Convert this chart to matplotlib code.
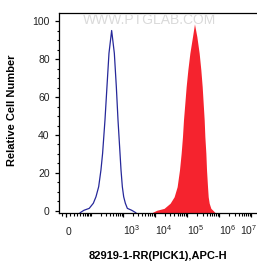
import matplotlib

matplotlib.use("Agg")
import matplotlib.pyplot as plt
from matplotlib.ticker import FixedLocator, FixedFormatter, NullFormatter
from matplotlib.transforms import ScaledTranslation

plt.rcParams["font.family"] = ["Liberation Sans", "DejaVu Sans"]
plt.rcParams["mathtext.fontset"] = "custom"
plt.rcParams["mathtext.rm"] = "Liberation Sans"
plt.rcParams["mathtext.it"] = "Liberation Sans:italic"
plt.rcParams["mathtext.bf"] = "Liberation Sans:bold"

# control histogram (blue outline)
control_x = [40, 56, 85, 116, 141, 172, 203, 229, 272, 314, 363, 440,
             534, 616, 695, 803, 863, 949, 1046, 1178, 1360, 1858, 2500]
control_y = [-1.0, 0.3, 1.3, 4.0, 7.4, 12.7, 21.5, 30.3, 47.9, 65.5, 83.1, 95.1,
             83.1, 65.5, 47.9, 30.3, 21.5, 12.7, 7.4, 4.0, 1.3, 0.3, -1.0]

# stained histogram (red fill)
stained_x = [7850, 11240, 19000, 29300, 39100, 48500, 57400, 64700, 71200, 76500,
             84300, 92700, 104600, 120800, 146300, 168500, 199800, 236300, 266400,
             293200, 315100, 338600, 355200, 381800, 400500, 430200, 451600, 485300,
             547100, 631500, 746500]
stained_y = [-1.0, 0.3, 1.3, 4.0, 7.4, 12.7, 21.5, 30.3, 39.1, 47.9,
             56.7, 65.5, 74.3, 83.1, 91.9, 98.6, 91.9, 83.1, 74.3,
             65.5, 56.7, 47.9, 39.1, 30.3, 21.5, 12.7, 7.4, 4.0,
             1.3, 0.3, -1.0]

x_major = [0, 1e3, 1e4, 1e5, 1e6, 1e7]
x_major_labels = ["0", "$10^{3}$", "$10^{4}$", "$10^{5}$", "$10^{6}$", "$10^{7}$"]
x_minor = [-10] + [k * 10 for k in range(1, 10)] + [k * 10 ** e for e in range(2, 7) for k in range(1, 10)]
y_major = [0, 20, 40, 60, 80, 100]
y_minor = list(range(0, 105, 5))

x_label = "82919-1-RR(PICK1),APC-H"
y_label = "Relative Cell Number"
watermark = "WWW.PTGLAB.COM"

fig = plt.figure(figsize=(2.57, 2.64), dpi=100)
ax = fig.add_axes([59 / 257, 1 - 213.3 / 264, 198 / 257, 200.6 / 264])

ax.set_xscale("asinh", linear_width=33)
ax.set_xlim(-17, 1.5e7)
ax.set_ylim(-1.3, 104.5)

ax.fill_between(stained_x, stained_y, -1.3, color="#f5232e", lw=0)
ax.plot(control_x, control_y, color="#26289a", lw=0.9)

ax.xaxis.set_major_locator(FixedLocator(x_major))
ax.xaxis.set_major_formatter(FixedFormatter(x_major_labels))
ax.xaxis.set_minor_locator(FixedLocator(x_minor))
ax.xaxis.set_minor_formatter(NullFormatter())
ax.yaxis.set_major_locator(FixedLocator(y_major))
ax.yaxis.set_minor_locator(FixedLocator(y_minor))

ax.tick_params(axis="x", which="major", direction="out", length=3.2, width=0.9,
               pad=12.5, labelsize=7.5, labelcolor="#222222")
ax.tick_params(axis="y", which="major", direction="out", length=3.2, width=0.9,
               pad=3.5, labelsize=7.5, labelcolor="#222222")
ax.tick_params(which="minor", direction="out", length=1.8, width=0.8)

for spine in ["top", "left", "bottom"]:
    ax.spines[spine].set_linewidth(0.9)
ax.spines["right"].set_visible(False)

for lbl in ax.get_xticklabels():
    lbl.set_ha("left")
    lbl.set_va("baseline")
last = ax.get_xticklabels()[-1]
last.set_transform(last.get_transform() + ScaledTranslation(-11 / 100, 0, fig.dpi_scale_trans))

ax.set_xlabel(x_label, fontsize=8, fontweight="bold")
ax.xaxis.set_label_coords(0.5, -0.19)
ax.set_ylabel(y_label, fontsize=8, fontweight="bold")
ax.yaxis.set_label_coords(-0.212, 0.513)

fig.text(150 / 257, 1 - 20 / 264, watermark, color="#dadada", fontsize=10,
         ha="center", va="center")

fig.savefig("out.png", dpi=100)
